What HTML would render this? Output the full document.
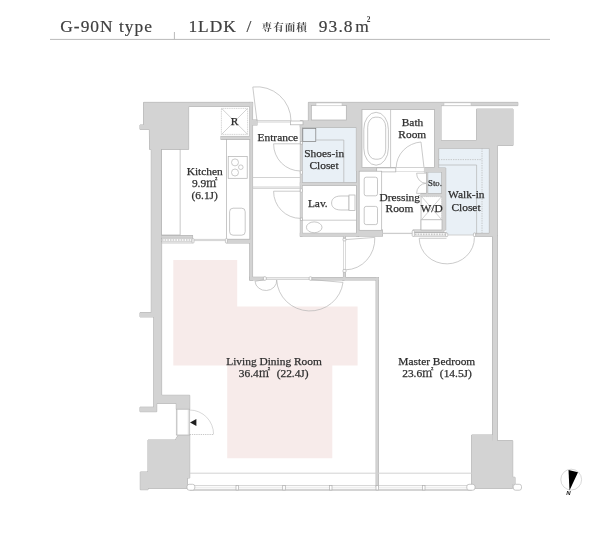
<!DOCTYPE html>
<html lang="ja">
<head>
<meta charset="utf-8">
<title>G-90N type</title>
<style>
html,body{margin:0;padding:0;background:#fff;}
body{width:600px;height:540px;overflow:hidden;position:relative;font-family:"Liberation Serif","Noto Serif CJK SC",serif;}
svg{position:absolute;left:0;top:0;display:block;will-change:transform;}
text{font-family:"Liberation Serif","Noto Serif CJK SC",serif;fill:#2e2e2e;}
.t{font-size:17.4px;fill:#404040;letter-spacing:1px;stroke:#404040;stroke-width:0.2px;}
.lb{font-size:11.4px;text-anchor:middle;stroke:#2e2e2e;stroke-width:0.25px;}
.le{text-anchor:end;}
.ls{text-anchor:start;}
.ln{fill:none;stroke:#b4b4b4;stroke-width:0.7;}
.ln2{fill:none;stroke:#c6c6c6;stroke-width:0.8;}
.dk{fill:none;stroke:#8c8c8c;stroke-width:0.7;}
.wh{fill:#fff;stroke:#b0b0b0;stroke-width:0.7;}
.bl{fill:#e9f0f6;}
.pk{fill:#f7ebea;}
</style>
</head>
<body>
<svg width="600" height="540" viewBox="0 0 600 540">
<defs>
<g id="walls">
  <!-- kitchen / left side -->
  <polygon points="143.6,102.4 252.6,102.4 252.6,106.5 188.6,106.5 188.6,149.4 161.6,149.4 161.6,395.3 189.7,395.3 189.7,409.2 176.3,409.2 176.3,403.3 156.7,403.3 156.7,411.7 140,411.7 140,407.2 153.8,407.2 153.8,316.9 140,316.9 140,312.7 151.3,312.7 151.3,149.4 149.6,149.4 149.4,129.4 140,129.4 140,125 143.6,125"/>
  <rect x="249.8" y="102.4" width="2.8" height="177.6"/>
  <rect x="252" y="120" width="5" height="5"/>
  <rect x="221" y="136.4" width="29" height="3"/>
  <rect x="161.6" y="235.6" width="31" height="2.6"/>
  <rect x="227" y="239.2" width="23" height="3.8"/>
  <!-- lower-left block -->
  <polygon points="148,440 175.3,440 178.3,435 189.7,435 189.7,478 187.5,478 187.5,488.3 148,488.3 148,489.7 140.3,489.7 140.3,472 148,472"/>
  <!-- hall bottom wall -->
  <rect x="249.8" y="277.2" width="14.5" height="2.8"/>
  <rect x="311" y="277.5" width="33" height="2.5"/>
  <rect x="342.7" y="277.5" width="35.8" height="2.5"/>
  <rect x="343.4" y="236" width="2.1" height="2.6"/>
  <rect x="343.4" y="272.3" width="2.1" height="6"/>
  <rect x="376.1" y="277.5" width="2.4" height="209"/>
  <!-- closet / lav -->
  <polygon points="300.3,121 308.4,121 308.4,102.4 517.8,102.4 517.8,105.6 441,105.6 441,140.6 476.5,140.6 476.5,109.1 513,109.1 513,145.5 497.3,145.5 497.3,236.4 474.4,236.4 474.4,233.4 489.4,233.4 489.4,148.2 438.6,148.2 438.6,168 445.7,168 445.7,230 441.8,230 441.8,172 424.2,172 424.2,167.5 376.7,167.5 376.7,171 356.4,171 356.4,127.3 300.3,127.3"/>
  <rect x="300.3" y="121" width="1.8" height="115"/>
  <rect x="300.3" y="182.8" width="58.5" height="2.5"/>
  <rect x="356.6" y="126" width="2.3" height="110"/>
  <rect x="300.3" y="233.3" width="58" height="2.8"/>
  <rect x="358.3" y="230" width="24.2" height="6.1"/>
  <rect x="426.5" y="172" width="1.2" height="24"/>
  <rect x="421" y="193.7" width="21" height="2.4"/>
  <rect x="413.2" y="230" width="30.6" height="2.8"/>
  <!-- right wall + lower right block -->
  <rect x="492.6" y="236" width="4.7" height="205"/>
  <polygon points="471.7,435 492.7,435 492.7,440.7 512.7,440.7 512.7,477.3 515,477.3 515,484 512.7,484 512.7,488.3 471.7,488.3"/>
</g>
</defs>

<!-- pink living zone -->
<polygon class="pk" points="173.3,260 237.2,260 237.2,306.5 357.6,306.5 357.6,365.5 332.3,365.5 332.3,458.2 227.2,458.2 227.2,365.5 173.3,365.5"/>
<!-- blue closets -->
<rect class="bl" x="302" y="127.3" width="54.6" height="55.6"/>
<polygon class="bl" points="438.6,148.2 489.4,148.2 489.4,235 445.8,235 445.8,168 438.6,168"/>
<rect class="bl" x="427.6" y="172.2" width="14.4" height="21.6"/>

<!-- walls -->
<use href="#walls" fill="#d3d3d3" stroke="#a8a8a8" stroke-width="0.9"/>
<use href="#walls" fill="#d3d3d3"/>
<!-- white cut-outs inside gray -->
<rect x="311.3" y="105.4" width="35" height="14.6" class="wh"/>
<rect x="316" y="103" width="26" height="2.8" fill="#fff" stroke="#c0c0c0" stroke-width="0.5"/>
<rect x="362" y="109.6" width="72.4" height="57.9" class="wh"/>
<rect x="444" y="102.9" width="27" height="2.6" fill="#fff" stroke="#c0c0c0" stroke-width="0.5"/>
<rect x="290.5" y="121" width="12.5" height="3.8" class="wh"/>

<!-- title -->
<text class="t" x="60.3" y="32">G-90N type</text>
<text class="t" x="188.4" y="32">1LDK</text>
<text class="t" x="246.5" y="32">/</text>
<text x="261.6" y="31.2" style="font-size:10.6px;font-weight:700;fill:#4a4a4a;letter-spacing:1px">専有面積</text>
<text class="t" x="318.8" y="32" style="letter-spacing:1.1px">93.8</text>
<text class="t" x="355.3" y="32" style="letter-spacing:0">m</text>
<text x="366.8" y="22" style="font-size:7.4px;font-weight:700;fill:#404040">2</text>
<line x1="50" y1="39.4" x2="550" y2="39.4" stroke="#b9b9b9" stroke-width="1"/>
<line x1="174.4" y1="32" x2="174.4" y2="39.4" stroke="#b9b9b9" stroke-width="1"/>

<!-- kitchen fixtures -->
<rect x="161.6" y="149.4" width="18.5" height="85.6" class="wh"/>
<rect x="226.6" y="139.4" width="23.2" height="99.8" class="wh"/>
<rect x="221.4" y="108.4" width="26.2" height="26" fill="#fff" stroke="#b8b8b8" stroke-width="0.6" stroke-dasharray="1.2 0.6"/>
<path class="ln2" d="M221.6,108.4 L247.6,134.4 M247.6,108.4 L221.6,134.4"/>
<rect x="228.2" y="156.4" width="19" height="21.9" class="wh"/>
<circle cx="235" cy="162.4" r="3.5" class="ln"/>
<circle cx="235" cy="172.5" r="3.5" class="ln"/>
<circle cx="240.8" cy="167.2" r="2.3" class="ln"/>
<rect x="229.6" y="208.2" width="15.6" height="27" rx="3.5" class="wh"/>
<!-- kitchen sliding door -->
<rect x="161.6" y="238.2" width="31" height="3.6" fill="#fff" stroke="#b0b0b0" stroke-width="0.6"/>
<line x1="162" y1="240" x2="192" y2="240" stroke="#b0b0b0" stroke-width="1.6" stroke-dasharray="0.7 0.9"/>
<line x1="161.6" y1="243" x2="192.6" y2="243" class="ln"/>
<rect x="192" y="238.6" width="2" height="4.4" rx="0.8" class="wh"/>
<rect x="225.4" y="238.6" width="2" height="4.4" rx="0.8" class="wh"/>
<path class="ln2" d="M194,239.4 H225.4 M194,240.6 H225.4"/>

<!-- entrance door -->
<path class="ln" d="M257,121 L252.8,87 A34.2,34.2 0 0 1 291,121"/>
<path class="ln2" d="M257,120.6 H291 M257,122 H291"/>
<!-- entrance step -->
<path class="ln2" d="M252.6,177.5 H300.5 M252.6,187 H300.5 M252.6,188.4 H300.5"/>
<!-- closet door -->
<path class="ln" d="M300.5,143.8 H273.6 A27,27 0 0 0 300.5,171"/>
<rect x="300.3" y="141.5" width="2.2" height="2.6" class="wh"/>
<rect x="300.3" y="170.6" width="2.2" height="3.6" rx="0.8" class="wh"/>
<!-- lav door -->
<path class="ln" d="M300.5,191.2 H273.6 A27,27 0 0 0 300.5,218.4"/>
<rect x="300.3" y="188.8" width="2.2" height="3.4" rx="0.8" class="wh"/>
<rect x="300.3" y="218" width="2.2" height="2.4" class="wh"/>

<!-- shoes-in closet inner -->
<rect x="302.8" y="128.4" width="13" height="13" fill="none" stroke="#7c7c7c" stroke-width="0.7"/>
<path class="ln" d="M315.8,140 H343.8 V182.3"/>

<!-- lav fixtures -->
<line x1="302.2" y1="220.2" x2="356.6" y2="220.2" class="ln"/>
<ellipse cx="314.2" cy="227.3" rx="7.8" ry="5.4" class="wh"/>
<path class="wh" d="M349,196 H341 C334,196 331.6,199.5 331.6,203 C331.6,206.5 334,210 341,210 H349 Z"/>
<rect x="349" y="195" width="6" height="15.4" class="wh"/>

<!-- bath -->
<line x1="390.6" y1="109.6" x2="390.6" y2="167.5" class="ln"/>
<rect x="363.8" y="112.3" width="24.6" height="52.9" rx="12.3" ry="17" class="wh"/>
<rect x="367.7" y="117.2" width="18" height="42" rx="7.5" ry="10" class="wh"/>
<path class="ln" d="M424,167.6 L421,142 A27,26 0 0 0 396.2,167.6"/>
<rect x="395.8" y="167.6" width="28.4" height="3.8" fill="#fff" stroke="#cfcfcf" stroke-width="0.6"/>
<rect x="376.7" y="167.9" width="19.1" height="4" class="wh"/>

<!-- dressing room -->
<rect x="359.2" y="171.2" width="22.5" height="59.1" class="wh"/>
<rect x="364.2" y="177.2" width="13.3" height="18.6" rx="2" class="wh"/>
<rect x="364.2" y="206.4" width="13.3" height="18.2" rx="2" class="wh"/>
<path d="M382.5,233.4 H412.4" fill="none" stroke="#cdcdcd" stroke-width="1.3"/>
<!-- sto doors -->
<path class="ln" d="M426,173.2 H416.6 A9.6,10 0 0 0 426,183.3 A9.6,10 0 0 0 416.6,193.4 H426"/>
<!-- W/D -->
<line x1="421" y1="196" x2="421" y2="230" class="ln"/>
<rect x="421.6" y="196.6" width="20" height="23" fill="#fff" stroke="#b8b8b8" stroke-width="0.6" stroke-dasharray="1.2 0.8"/>
<path class="ln2" d="M421.6,196.6 L441.6,219.6 M441.6,196.6 L421.6,219.6"/>
<rect x="421" y="219.8" width="21" height="10.2" class="wh"/>
<!-- walk-in closet inner -->
<path class="ln" d="M438.6,165 H476.6 V234"/>
<path d="M438.6,159.6 H482 M482,148.2 V233" fill="none" stroke="#b8b8b8" stroke-width="0.7" stroke-dasharray="1.4 1"/>
<!-- pocket door under W/D -->
<rect x="413.6" y="232.7" width="32.6" height="3.4" fill="#fff" stroke="#a0a0a0" stroke-width="0.7"/>
<line x1="415" y1="234.4" x2="446" y2="234.4" stroke="#b0b0b0" stroke-width="1.6" stroke-dasharray="0.7 0.9"/>
<rect x="412.2" y="230.4" width="2.2" height="6" rx="0.9" class="wh"/>
<rect x="445.6" y="233" width="2.2" height="3.6" rx="0.9" class="wh"/>
<rect x="473.4" y="233" width="2.2" height="3.6" rx="0.9" class="wh"/>
<line x1="447.8" y1="235" x2="473.4" y2="235" class="ln2"/>
<!-- walk-in closet door -->
<path class="ln" d="M446.5,238.3 H419.2 A27.6,26 0 0 0 474.4,237.4"/>

<!-- hall door to bedroom -->
<rect x="343.5" y="240" width="1.9" height="30" fill="#fff" stroke="#c2c2c2" stroke-width="0.6"/>
<rect x="343" y="238.3" width="3" height="2.6" rx="0.9" class="wh"/>
<rect x="343" y="269.4" width="3" height="3" rx="0.9" class="wh"/>
<path class="ln" d="M345.6,239.6 L374.8,237.4 A29.4,31 0 0 1 345.8,269.8"/>
<!-- hall -> living doors -->
<rect x="266" y="277.6" width="43.6" height="2.1" fill="#ececec" stroke="#c4c4c4" stroke-width="0.6"/>
<rect x="263.4" y="276.8" width="2.9" height="3.4" rx="1" class="wh"/>
<rect x="309.1" y="276.8" width="2.7" height="3.4" rx="1" class="wh"/>
<path class="ln" d="M263.4,279.8 L255,281.3 A10.8,9.8 0 0 0 276.7,280 A33.3,32.6 0 0 0 343,282.4 L311.8,279.6"/>

<!-- west door (service) -->
<rect x="176.3" y="409.2" width="13.4" height="25.8" class="wh"/>
<line x1="188.3" y1="409.2" x2="188.3" y2="435" stroke="#c4c4c4" stroke-width="0.6"/><line x1="177.3" y1="409.2" x2="177.3" y2="435" stroke="#c4c4c4" stroke-width="0.5"/>
<path d="M189.7,434.5 H213.6" fill="none" stroke="#b0b0b0" stroke-width="0.7" stroke-dasharray="1.3 0.9"/><path d="M213.6,434.5 A24,24.4 0 0 0 189.7,410" fill="none" stroke="#c0c0c0" stroke-width="0.6"/>
<polygon points="190,422.5 196.4,419 196.4,426" fill="#1e1e1e"/>

<!-- south windows -->
<line x1="189.7" y1="473.2" x2="471.7" y2="473.2" stroke="#d2d2d2" stroke-width="1"/>
<path d="M189.7,485.6 H471.7" fill="none" stroke="#c8c8c8" stroke-width="0.8"/>
<path d="M194,487.8 H467" fill="none" stroke="#e0e0e0" stroke-width="0.7"/>
<path d="M189.7,490 H471.7" fill="none" stroke="#c6c6c6" stroke-width="1.5"/>
<rect x="187" y="484.3" width="7.8" height="5.9" rx="2.2" class="wh"/>
<rect x="466.8" y="484.3" width="8.2" height="5.9" rx="2.2" class="wh"/>
<rect x="513.3" y="484.3" width="8.2" height="5.9" rx="2.2" class="wh"/>
<rect x="236" y="485.6" width="2.6" height="4.4" class="wh"/>
<rect x="282.7" y="485.6" width="2.6" height="4.4" class="wh"/>
<rect x="329.4" y="485.6" width="2.6" height="4.4" class="wh"/>
<rect x="376" y="485.6" width="2.6" height="4.4" class="wh"/>
<rect x="422.4" y="485.6" width="2.6" height="4.4" class="wh"/>

<!-- compass -->
<circle cx="571.2" cy="479.6" r="10.4" fill="#fff" stroke="#bdbdbd" stroke-width="0.6"/>
<polygon points="568.5,470 578,472.2 569.5,490.6" fill="#000"/>
<text x="566.3" y="495.3" style="font-size:6px;font-weight:700;font-style:italic;font-family:'Liberation Sans',sans-serif;fill:#111">N</text>

<!-- labels -->
<text class="lb" x="234.5" y="125">R</text>
<text class="lb" x="277.8" y="141.4">Entrance</text>
<text class="lb" x="324.2" y="157">Shoes-in</text>
<text class="lb" x="324" y="169.4">Closet</text>
<text class="lb" x="412.5" y="126">Bath</text>
<text class="lb" x="412.3" y="138">Room</text>
<text class="lb" x="204.7" y="174.8">Kitchen</text>
<text class="lb" x="204.7" y="186.8">9.9㎡</text>
<text class="lb" x="204.7" y="198.6">(6.1J)</text>
<text class="lb" x="317.8" y="206.7">Lav.</text>
<text class="lb" x="399.7" y="200.6">Dressing</text>
<text class="lb" x="399.5" y="212.4">Room</text>
<text class="lb" x="435" y="185.8" style="font-size:8.8px">Sto.</text>
<text class="lb" x="431.7" y="211.6">W/D</text>
<text class="lb" x="466.3" y="198">Walk-in</text>
<text class="lb" x="466" y="210.6">Closet</text>
<text class="lb" x="274" y="365">Living Dining Room</text>
<text class="lb ls" x="238.8" y="377">36.4㎡</text>
<text class="lb le" x="308.6" y="377">(22.4J)</text>
<text class="lb" x="436.8" y="365">Master Bedroom</text>
<text class="lb ls" x="402.2" y="377">23.6㎡</text>
<text class="lb le" x="471.8" y="377">(14.5J)</text>
</svg>
</body>
</html>
